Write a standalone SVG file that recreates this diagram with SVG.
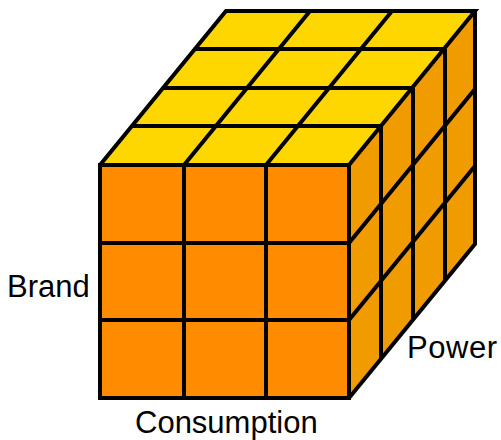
<svg xmlns="http://www.w3.org/2000/svg" width="501" height="440" viewBox="0 0 501 440">
<style>
.l{stroke:#000;stroke-width:4;fill:none;stroke-linejoin:miter;stroke-linecap:butt}
.t{font-family:"Liberation Sans",Arial,sans-serif;font-size:31px;fill:#000}
</style>
<rect width="501" height="440" fill="#fff"/>
<g id="cube">
<polygon id="top-face" points="100,165 226,11 475,11 349,165" fill="#ffd700"/>
<rect id="front-face" x="100" y="165" width="249" height="233" fill="#ff8c00"/>
<polygon id="side-face" points="349,165 475,11 475,244 349,398" fill="#f09c00"/>
<g id="connectors">
<path class="l" d="M132,126H381M163,88H412M195,49H444"/>
<path class="l" d="M184,165L310,11M266,165L392,11"/>
<path class="l" d="M184,165V398M266,165V398M100,243H349M100,320H349"/>
<path class="l" d="M381,126V359M413,88V320M445,49V281"/>
<path class="l" d="M349,243L475,89M349,320L475,166"/>
<path class="l" d="M100,165H349V398H100ZM100,165L226,11H475L349,165M475,11V244L349,398"/>
</g>
</g>
<text id="brand" class="t" x="7" y="297">Brand</text>
<text id="consumption" class="t" x="135" y="433">Consumption</text>
<text id="power" class="t" x="407" y="358" textLength="90">Power</text>
</svg>
